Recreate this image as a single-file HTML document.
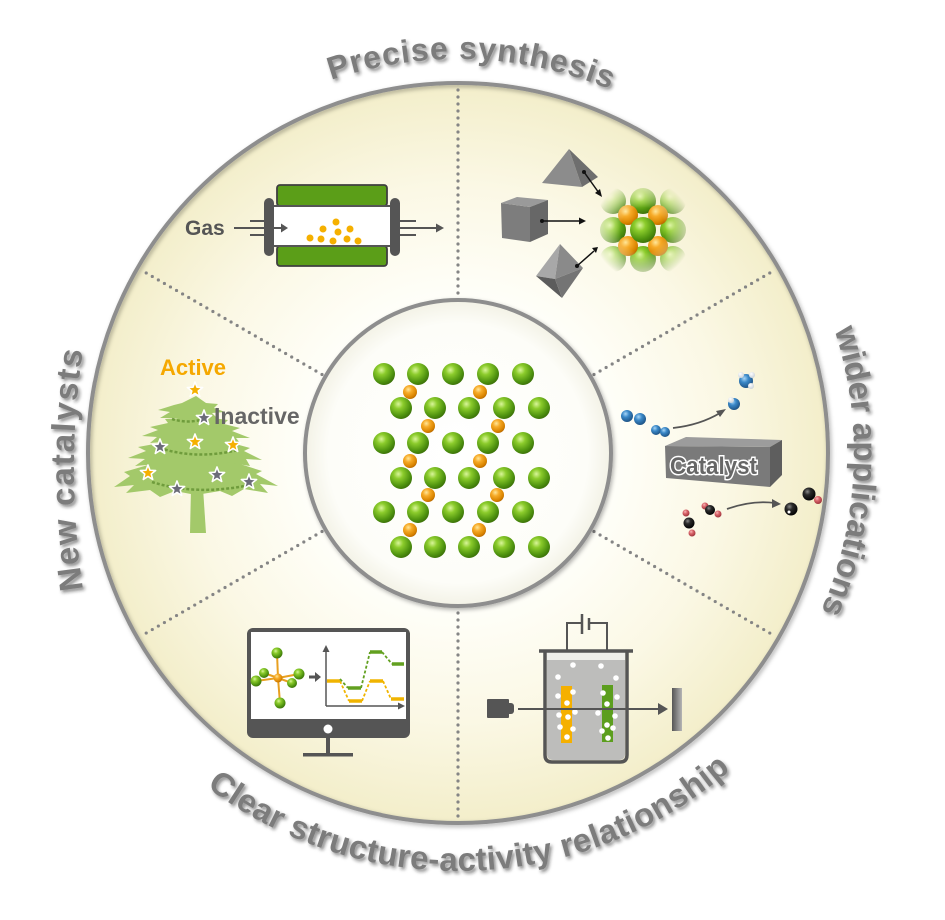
<!DOCTYPE html>
<html><head><meta charset="utf-8">
<style>
html,body{margin:0;padding:0;background:#fff;}
svg{display:block;}
.lbl{font-family:"Liberation Sans",Arial,sans-serif;font-weight:bold;fill:#7c7c7c;}
</style></head>
<body>
<svg width="945" height="920" viewBox="0 0 945 920" xmlns="http://www.w3.org/2000/svg" font-family="'Liberation Sans', Arial, sans-serif">
<defs>
 <radialGradient id="bg" cx="458" cy="453" r="370" gradientUnits="userSpaceOnUse">
  <stop offset="0.4" stop-color="#fffffa"/>
  <stop offset="0.72" stop-color="#fbf8e5"/>
  <stop offset="1" stop-color="#f3eeca"/>
 </radialGradient>
 <radialGradient id="innerG" cx="458" cy="453" r="153" gradientUnits="userSpaceOnUse">
  <stop offset="0" stop-color="#ffffff"/>
  <stop offset="0.85" stop-color="#fdfdf8"/>
  <stop offset="1" stop-color="#f3f2e6"/>
 </radialGradient>
 <radialGradient id="gs" cx="0.38" cy="0.32" r="0.72">
  <stop offset="0" stop-color="#d9f59a"/>
  <stop offset="0.3" stop-color="#8ccc2c"/>
  <stop offset="0.75" stop-color="#4f930f"/>
  <stop offset="1" stop-color="#3a6e08"/>
 </radialGradient>
 <radialGradient id="os" cx="0.38" cy="0.32" r="0.72">
  <stop offset="0" stop-color="#ffe79a"/>
  <stop offset="0.35" stop-color="#f7ab28"/>
  <stop offset="0.8" stop-color="#d98400"/>
  <stop offset="1" stop-color="#b86800"/>
 </radialGradient>
 <radialGradient id="bs" cx="0.38" cy="0.32" r="0.72">
  <stop offset="0" stop-color="#a8d6f7"/>
  <stop offset="0.4" stop-color="#3a88c8"/>
  <stop offset="1" stop-color="#1c4f80"/>
 </radialGradient>
 <radialGradient id="ks" cx="0.38" cy="0.32" r="0.72">
  <stop offset="0" stop-color="#8a8a8a"/>
  <stop offset="0.35" stop-color="#2a2a2a"/>
  <stop offset="1" stop-color="#000"/>
 </radialGradient>
 <radialGradient id="rs" cx="0.38" cy="0.32" r="0.72">
  <stop offset="0" stop-color="#f7b8b8"/>
  <stop offset="0.4" stop-color="#d9646a"/>
  <stop offset="1" stop-color="#9a3038"/>
 </radialGradient>
 <radialGradient id="ws" cx="0.38" cy="0.32" r="0.72">
  <stop offset="0" stop-color="#ffffff"/>
  <stop offset="1" stop-color="#c8d0d8"/>
 </radialGradient>
 <linearGradient id="det" x1="0" y1="0" x2="1" y2="0">
  <stop offset="0" stop-color="#555"/>
  <stop offset="1" stop-color="#b5b5b5"/>
 </linearGradient>
 <radialGradient id="fadeGrad" cx="643" cy="230" r="50" gradientUnits="userSpaceOnUse">
  <stop offset="0.45" stop-color="#fff"/>
  <stop offset="1" stop-color="#000"/>
 </radialGradient>
 <mask id="fadeMask" maskUnits="userSpaceOnUse" x="585" y="170" width="120" height="120">
  <rect x="585" y="170" width="120" height="120" fill="url(#fadeGrad)"/>
 </mask>
 <filter id="ts" x="-10%" y="-10%" width="120%" height="130%">
  <feDropShadow dx="2" dy="2.5" stdDeviation="1.6" flood-color="#222" flood-opacity="0.5"/>
 </filter>
 <filter id="cs" x="-10%" y="-10%" width="120%" height="120%">
  <feDropShadow dx="1.5" dy="2" stdDeviation="2" flood-color="#000" flood-opacity="0.3"/>
 </filter>
 <path id="pTop" d="M123.9,244.2 A394,394 0 0 1 805.9,268"/>
 <path id="pRight" d="M671.9,119.8 A396,396 0 0 1 639.6,804.9"/>
 <path id="pLeft" d="M122.2,742.6 A800,800 0 0 1 122.2,195.4"/>
 <path id="pBot" d="M70.2,608.9 A418,418 0 0 0 855.3,582.9"/>
 <path id="star" d="M0,-8 L2,-2.75 L7.61,-2.47 L3.23,1.05 L4.7,6.47 L0,3.4 L-4.7,6.47 L-3.23,1.05 L-7.61,-2.47 L-2,-2.75 Z" stroke="#fff" stroke-width="1.6" stroke-linejoin="round"/>
</defs>

<!-- main disc -->
<circle cx="458" cy="453" r="370" fill="url(#bg)"/>
<circle cx="458" cy="453" r="370" fill="none" stroke="#8e8e8e" stroke-width="4" filter="url(#cs)"/>

<!-- dotted dividers -->
<g stroke="#858585" stroke-width="3.2" stroke-linecap="round" stroke-dasharray="0 7" fill="none">
 <line x1="458" y1="300" x2="458" y2="88"/>
 <line x1="594" y1="374.5" x2="774" y2="270.5"/>
 <line x1="594" y1="531.5" x2="774" y2="635.5"/>
 <line x1="458" y1="606" x2="458" y2="818"/>
 <line x1="322" y1="531.5" x2="142" y2="635.5"/>
 <line x1="322" y1="374.5" x2="142" y2="270.5"/>
</g>

<!-- inner circle -->
<circle cx="458" cy="453" r="153" fill="url(#innerG)" stroke="#8e8e8e" stroke-width="4" filter="url(#cs)"/>

<!-- center lattice -->
<g>
 <g fill="url(#gs)">
  <circle cx="384" cy="374" r="11"/><circle cx="418" cy="374" r="11"/><circle cx="453" cy="374" r="11"/><circle cx="488" cy="374" r="11"/><circle cx="523" cy="374" r="11"/>
 </g>
 <g fill="url(#os)"><circle cx="410" cy="392" r="7"/><circle cx="480" cy="392" r="7"/></g>
 <g fill="url(#gs)">
  <circle cx="401" cy="408" r="11"/><circle cx="435" cy="408" r="11"/><circle cx="469" cy="408" r="11"/><circle cx="504" cy="408" r="11"/><circle cx="539" cy="408" r="11"/>
 </g>
 <g fill="url(#os)"><circle cx="428" cy="426" r="7"/><circle cx="498" cy="426" r="7"/></g>
 <g fill="url(#gs)">
  <circle cx="384" cy="443" r="11"/><circle cx="418" cy="443" r="11"/><circle cx="453" cy="443" r="11"/><circle cx="488" cy="443" r="11"/><circle cx="523" cy="443" r="11"/>
 </g>
 <g fill="url(#os)"><circle cx="410" cy="461" r="7"/><circle cx="480" cy="461" r="7"/></g>
 <g fill="url(#gs)">
  <circle cx="401" cy="478" r="11"/><circle cx="435" cy="478" r="11"/><circle cx="469" cy="478" r="11"/><circle cx="504" cy="478" r="11"/><circle cx="539" cy="478" r="11"/>
 </g>
 <g fill="url(#os)"><circle cx="428" cy="495" r="7"/><circle cx="497" cy="495" r="7"/></g>
 <g fill="url(#gs)">
  <circle cx="384" cy="512" r="11"/><circle cx="418" cy="512" r="11"/><circle cx="453" cy="512" r="11"/><circle cx="488" cy="512" r="11"/><circle cx="523" cy="512" r="11"/>
 </g>
 <g fill="url(#os)"><circle cx="410" cy="530" r="7"/><circle cx="479" cy="530" r="7"/></g>
 <g fill="url(#gs)">
  <circle cx="401" cy="547" r="11"/><circle cx="435" cy="547" r="11"/><circle cx="469" cy="547" r="11"/><circle cx="504" cy="547" r="11"/><circle cx="539" cy="547" r="11"/>
 </g>
</g>

<!-- top-left: reactor -->
<g>
 <rect x="277" y="185" width="110" height="21" rx="3" fill="#5b9e18" stroke="#3f3f3f" stroke-width="1.8"/>
 <rect x="277" y="246" width="110" height="20" rx="3" fill="#5b9e18" stroke="#3f3f3f" stroke-width="1.8"/>
 <rect x="274" y="206" width="116" height="40" fill="#fff"/>
 <line x1="272" y1="206" x2="392" y2="206" stroke="#555" stroke-width="2"/>
 <line x1="272" y1="246" x2="392" y2="246" stroke="#555" stroke-width="2"/>
 <rect x="264" y="198" width="10" height="58" rx="5" fill="#555"/>
 <rect x="390" y="198" width="10" height="58" rx="5" fill="#555"/>
 <g stroke="#555" stroke-width="2">
  <line x1="250" y1="221" x2="274" y2="221"/><line x1="250" y1="235" x2="274" y2="235"/>
  <line x1="400" y1="221" x2="416" y2="221"/><line x1="400" y1="235" x2="416" y2="235"/>
  <line x1="234" y1="228" x2="282" y2="228"/><line x1="400" y1="228" x2="437" y2="228"/>
 </g>
 <polygon points="281,223.5 288,228 281,232.5" fill="#555"/>
 <polygon points="436,223.5 444,228 436,232.5" fill="#555"/>
 <text x="185" y="235" font-size="21" font-weight="bold" fill="#555">Gas</text>
 <g fill="#f5b000">
  <circle cx="336" cy="222" r="3.5"/><circle cx="323" cy="229" r="3.5"/><circle cx="338" cy="232" r="3.5"/><circle cx="350" cy="229" r="3.5"/>
  <circle cx="310" cy="238" r="3.5"/><circle cx="321" cy="239" r="3.5"/><circle cx="333" cy="241" r="3.5"/><circle cx="347" cy="239" r="3.5"/><circle cx="358" cy="241" r="3.5"/>
 </g>
</g>

<!-- top-right: crystals -->
<g>
 <polygon points="569,149 542,183 582,187" fill="#8c8c8c"/>
 <polygon points="569,149 582,187 598,177" fill="#6e6e6e"/>
 <polygon points="501,203 530,207 530,242 502,238" fill="#7d7d7d"/>
 <polygon points="501,203 517,197 548,200 530,207" fill="#9a9a9a"/>
 <polygon points="530,207 548,200 548,234 530,242" fill="#676767"/>
 <polygon points="560,244 536,276 555,279" fill="#a8a8a8"/>
 <polygon points="560,244 555,279 583,268" fill="#8a8a8a"/>
 <polygon points="536,276 555,279 562,298" fill="#5c5c5c"/>
 <polygon points="555,279 583,268 562,298" fill="#747474"/>
 <g stroke="#111" stroke-width="1.5">
  <line x1="584" y1="172" x2="599" y2="193"/>
  <line x1="542" y1="221" x2="581" y2="221"/>
  <line x1="577" y1="266" x2="594" y2="251"/>
 </g>
 <g fill="#111">
  <circle cx="584" cy="172" r="2"/><circle cx="542" cy="221" r="2"/><circle cx="577" cy="266" r="2"/>
  <polygon points="602,197 595,193 600,189"/>
  <polygon points="586,221 579,217.5 579,224.5"/>
  <polygon points="598,247 592,248 596,253"/>
 </g>
 <g mask="url(#fadeMask)">
  <g fill="url(#gs)">
   <circle cx="613" cy="201" r="13"/><circle cx="643" cy="201" r="13"/><circle cx="673" cy="201" r="13"/>
   <circle cx="613" cy="230" r="13"/><circle cx="673" cy="230" r="13"/>
   <circle cx="613" cy="259" r="13"/><circle cx="643" cy="259" r="13"/><circle cx="673" cy="259" r="13"/>
  </g>
  <g fill="url(#os)">
   <circle cx="628" cy="215" r="10"/><circle cx="658" cy="215" r="10"/><circle cx="628" cy="246" r="10"/><circle cx="658" cy="246" r="10"/>
  </g>
  <circle cx="643" cy="230" r="13" fill="url(#gs)"/>
 </g>
</g>

<!-- right: catalyst -->
<g>
 <circle cx="627" cy="416" r="6" fill="url(#bs)"/><circle cx="640" cy="419" r="6" fill="url(#bs)"/>
 <circle cx="656" cy="430" r="5" fill="url(#bs)"/><circle cx="665" cy="432" r="5" fill="url(#bs)"/>
 <path d="M673,428 Q700,425 720,413" stroke="#555" stroke-width="1.8" fill="none"/>
 <polygon points="726,409 716,411 720,417" fill="#555"/>
 <circle cx="734" cy="404" r="6" fill="url(#bs)"/><circle cx="731" cy="400" r="3" fill="url(#ws)"/>
 <circle cx="746" cy="381" r="7" fill="url(#bs)"/>
 <circle cx="741" cy="375" r="3" fill="url(#ws)"/><circle cx="752" cy="375" r="3" fill="url(#ws)"/><circle cx="751" cy="386" r="3" fill="url(#ws)"/>
 <polygon points="665,446 770,447 770,487 666,478" fill="#7a7a7a"/>
 <polygon points="665,446 686,437 782,440 770,447" fill="#9c9c9c"/>
 <polygon points="770,447 782,440 782,475 770,487" fill="#5e5e5e"/>
 <text x="670" y="474" font-size="24" font-weight="bold" fill="#666" stroke="#fff" stroke-width="3" paint-order="stroke" textLength="87" lengthAdjust="spacingAndGlyphs">Catalyst</text>
 <circle cx="705" cy="506" r="3.5" fill="url(#rs)"/><circle cx="710" cy="510" r="5" fill="url(#ks)"/><circle cx="718" cy="514" r="3.5" fill="url(#rs)"/>
 <circle cx="686" cy="513" r="3.5" fill="url(#rs)"/><circle cx="689" cy="523" r="5.5" fill="url(#ks)"/><circle cx="692" cy="533" r="3.5" fill="url(#rs)"/>
 <path d="M727,509 Q752,500 775,503" stroke="#555" stroke-width="1.8" fill="none"/>
 <polygon points="781,504 772,499 772,508" fill="#555"/>
 <circle cx="791" cy="509" r="6.5" fill="url(#ks)"/><circle cx="789" cy="512" r="1.5" fill="#fff"/>
 <circle cx="818" cy="500" r="4" fill="url(#rs)"/><circle cx="809" cy="494" r="6.5" fill="url(#ks)"/>
</g>

<!-- bottom-right: cell -->
<g>
 <g stroke="#555" stroke-width="2" fill="none">
  <path d="M567,686 L567,623 L582,623"/>
  <path d="M589,623 L607,623 L607,685"/>
 </g>
 <line x1="582" y1="614" x2="582" y2="634" stroke="#555" stroke-width="2.5"/>
 <line x1="589" y1="618" x2="589" y2="630" stroke="#555" stroke-width="2.5"/>
 <path d="M547,660 L625,660 L625,754 Q625,760 619,760 L553,760 Q547,760 547,754 Z" fill="#bdbdbb"/>
 <rect x="547" y="652" width="78" height="8" fill="#eeeeea"/>
 <path d="M545,651 L545,755 Q545,762 552,762 L620,762 Q627,762 627,755 L627,651" stroke="#555" stroke-width="3.5" fill="none"/>
 <line x1="539" y1="651" x2="633" y2="651" stroke="#555" stroke-width="3.5"/>
 <rect x="561" y="686" width="11" height="57" fill="#f5b000"/>
 <rect x="602" y="685" width="11" height="57" fill="#5c9e1e"/>
 <g fill="#fff">
  <circle cx="573" cy="665" r="2.8"/><circle cx="601" cy="666" r="2.8"/><circle cx="558" cy="677" r="2.8"/><circle cx="616" cy="678" r="2.8"/>
  <circle cx="573" cy="692" r="2.8"/><circle cx="558" cy="696" r="2.8"/><circle cx="603" cy="693" r="2.8"/><circle cx="617" cy="697" r="2.8"/>
  <circle cx="567" cy="703" r="2.8"/><circle cx="607" cy="704" r="2.8"/><circle cx="575" cy="712" r="2.8"/><circle cx="559" cy="715" r="2.8"/>
  <circle cx="568" cy="717" r="2.8"/><circle cx="598" cy="713" r="2.8"/><circle cx="615" cy="716" r="2.8"/><circle cx="560" cy="727" r="2.8"/>
  <circle cx="573" cy="729" r="2.8"/><circle cx="607" cy="725" r="2.8"/><circle cx="602" cy="731" r="2.8"/><circle cx="613" cy="728" r="2.8"/>
  <circle cx="567" cy="737" r="2.8"/><circle cx="608" cy="738" r="2.8"/>
 </g>
 <rect x="487" y="699" width="22" height="19" rx="1" fill="#555"/>
 <rect x="506" y="703" width="8" height="11" rx="3" fill="#555"/>
 <line x1="518" y1="709" x2="660" y2="709" stroke="#555" stroke-width="2"/>
 <polygon points="658,703 668,709 658,715" fill="#555"/>
 <rect x="672" y="688" width="10" height="43" fill="url(#det)"/>
</g>

<!-- bottom-left: monitor -->
<g>
 <rect x="247" y="628" width="163" height="110" rx="6" fill="#555"/>
 <rect x="251" y="632" width="155" height="87" fill="#fff"/>
 <circle cx="328" cy="729" r="4.5" fill="#fff"/>
 <rect x="326" y="738" width="4" height="17" fill="#555"/>
 <rect x="303" y="753" width="50" height="3.5" fill="#555"/>
 <g stroke="#e8a020" stroke-width="2">
  <line x1="278" y1="678" x2="277" y2="653"/><line x1="278" y1="678" x2="280" y2="703"/>
  <line x1="278" y1="678" x2="256" y2="681"/><line x1="278" y1="678" x2="264" y2="673"/>
  <line x1="278" y1="678" x2="299" y2="674"/><line x1="278" y1="678" x2="292" y2="683"/>
 </g>
 <g fill="url(#gs)">
  <circle cx="277" cy="653" r="5.5"/><circle cx="280" cy="703" r="5.5"/><circle cx="256" cy="681" r="5.5"/>
  <circle cx="264" cy="673" r="5"/><circle cx="299" cy="674" r="5.5"/><circle cx="292" cy="683" r="5"/>
 </g>
 <circle cx="278" cy="678" r="4.5" fill="url(#os)"/>
 <line x1="309" y1="677" x2="316" y2="677" stroke="#555" stroke-width="3"/>
 <polygon points="315,672 321,677 315,682" fill="#555"/>
 <g stroke="#555" stroke-width="1.5" fill="none">
  <line x1="326" y1="706" x2="326" y2="651"/>
  <line x1="326" y1="706" x2="399" y2="706"/>
 </g>
 <polygon points="322.5,652 326,645 329.5,652" fill="#555"/>
 <polygon points="398,702.5 405,706 398,709.5" fill="#555"/>
 <g stroke="#f0b400">
  <g stroke-width="3.5">
   <line x1="327" y1="681" x2="340" y2="681"/><line x1="349" y1="701" x2="362" y2="701"/>
   <line x1="370" y1="681" x2="383" y2="681"/><line x1="391" y1="699" x2="404" y2="699"/>
  </g>
  <g stroke-width="1.8" stroke-dasharray="3 2">
   <line x1="340" y1="681" x2="349" y2="701"/><line x1="362" y1="701" x2="370" y2="681"/><line x1="383" y1="681" x2="391" y2="699"/>
  </g>
 </g>
 <g stroke="#62a020">
  <g stroke-width="3.5">
   <line x1="348" y1="688" x2="361" y2="688"/><line x1="370" y1="652" x2="382" y2="652"/><line x1="392" y1="664" x2="404" y2="664"/>
  </g>
  <g stroke-width="1.8" stroke-dasharray="3 2">
   <line x1="340" y1="679" x2="348" y2="688"/><line x1="361" y1="688" x2="370" y2="652"/><line x1="382" y1="652" x2="392" y2="664"/>
  </g>
 </g>
</g>

<!-- left: tree -->
<g>
 <g fill="#a3c96a">
  <path d="M191,488 L203,488 L206,533 L190,533 Z"/>
  <path d="M196,452 L220,458 L246,458 L240,464 L262,471 L256,474 L278,486 L260,484 L268,493 L244,489 L232,496 L220,491 L196,495 L175,491 L160,497 L150,490 L126,493 L134,485 L114,487 L130,476 L124,472 L148,465 L144,460 L170,458 Z"/>
  <path d="M196,432 L214,437 L236,438 L232,443 L250,448 L244,451 L262,460 L246,459 L250,466 L225,462 L196,467 L168,463 L135,466 L145,459 L128,458 L146,451 L138,447 L160,443 L156,439 L178,437 Z"/>
  <path d="M196,412 L212,418 L228,420 L224,424 L240,428 L232,431 L250,438 L236,438 L240,443 L215,440 L196,444 L175,441 L150,443 L157,437 L142,436 L158,430 L150,427 L168,423 L165,419 L182,418 Z"/>
  <path d="M196,396 L206,403 L218,404 L214,408 L225,412 L212,413 L218,419 L200,417 L190,421 L176,418 L160,418 L170,412 L158,410 L174,405 L182,403 Z"/>
 </g>
 <g stroke="#6f9c3c" stroke-width="2.5" stroke-dasharray="3 2" fill="none">
  <path d="M172,419 Q188,424 204,419"/>
  <path d="M160,448 Q196,460 238,450"/>
  <path d="M152,482 Q196,496 250,485"/>
 </g>
 <g fill="#f5b000">
  <use href="#star" transform="translate(195,390)"/>
  <use href="#star" transform="translate(195,442)"/>
  <use href="#star" transform="translate(233,445)"/>
  <use href="#star" transform="translate(148,473)"/>
 </g>
 <g fill="#6b6b78">
  <use href="#star" transform="translate(204,418)"/>
  <use href="#star" transform="translate(160,447)"/>
  <use href="#star" transform="translate(217,475)"/>
  <use href="#star" transform="translate(249,482)"/>
  <use href="#star" transform="translate(177,489)"/>
 </g>
 <text x="160" y="375" font-size="22" font-weight="bold" fill="#f5a800">Active</text>
 <text x="214" y="424" font-size="23" font-weight="bold" fill="#666">Inactive</text>
</g>

<!-- curved labels -->
<g filter="url(#ts)">
 <text class="lbl" font-size="32" letter-spacing="0.9"><textPath href="#pTop" startOffset="50%" text-anchor="middle">Precise synthesis</textPath></text>
 <text class="lbl" font-size="33"><textPath href="#pRight" startOffset="50%" text-anchor="middle">wider applications</textPath></text>
 <text class="lbl" font-size="33" letter-spacing="1.8"><textPath href="#pLeft" startOffset="50%" text-anchor="middle">New catalysts</textPath></text>
 <text class="lbl" font-size="33" letter-spacing="0.3"><textPath href="#pBot" startOffset="50%" text-anchor="middle">Clear structure-activity relationship</textPath></text>
</g>
</svg>
</body></html>
